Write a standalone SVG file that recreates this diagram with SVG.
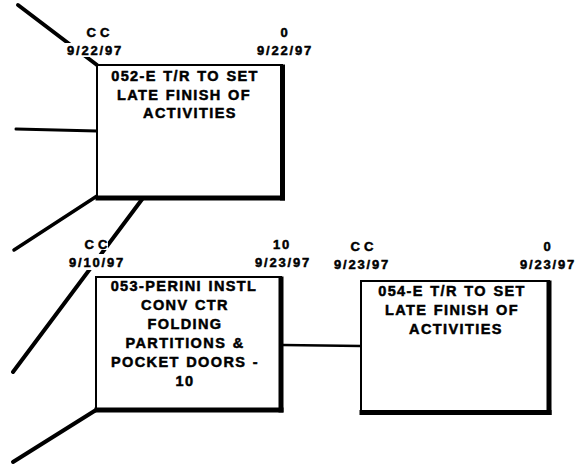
<svg xmlns="http://www.w3.org/2000/svg" width="581" height="465" viewBox="0 0 581 465">
<style>
.thin{fill:none;stroke:#000;stroke-width:2;stroke-linecap:square}
.thick{fill:none;stroke:#000;stroke-width:5;stroke-linecap:square}
.conn{fill:none;stroke:#000;stroke-linecap:round}
.bg{fill:#fff}
text{font-family:"Liberation Sans",Arial,Helvetica,sans-serif;font-weight:bold;fill:#000;stroke:#000;stroke-width:0.5;text-anchor:middle}
.lbl{font-size:13px;letter-spacing:1.8px}
.cc{font-size:13px;letter-spacing:4px}
.body{font-size:14.5px;letter-spacing:1.4px;word-spacing:1px}
</style>
<rect width="581" height="465" fill="#fff"/>
<g id="connectors">
<line class="conn" x1="18" y1="5" x2="97" y2="65" stroke-width="4"/>
<line class="conn" x1="16" y1="129" x2="97" y2="131" stroke-width="3"/>
<line class="conn" x1="97" y1="196" x2="14" y2="250" stroke-width="3.5"/>
<line class="conn" x1="143" y1="198" x2="13" y2="372" stroke-width="4"/>
<line class="conn" x1="96" y1="410" x2="13" y2="462" stroke-width="4"/>
<line class="conn" x1="283" y1="345" x2="361" y2="346" stroke-width="2.5"/>
</g>
<g id="node052">
<rect class="bg" x="97" y="65" width="184" height="131"/>
<polyline class="thin" points="282,65 97,65 97,198"/>
<line class="thick" x1="282.5" y1="67" x2="282.5" y2="198"/>
<line class="thick" x1="98" y1="198" x2="282.5" y2="198"/>
<rect class="bg" x="84" y="27" width="28" height="11"/>
<rect class="bg" x="63" y="43" width="62" height="14"/>
<text class="cc" x="100" y="37">CC</text>
<text class="lbl" x="95" y="55">9/22/97</text>
<text class="lbl" x="285" y="37">0</text>
<text class="lbl" x="285" y="55">9/22/97</text>
<text class="body" x="185" y="81">052-E T/R TO SET</text>
<text class="body" x="184" y="100">LATE FINISH OF</text>
<text class="body" x="190" y="118">ACTIVITIES</text>
</g>
<g id="node053">
<rect class="bg" x="96" y="277" width="183" height="131"/>
<polyline class="thin" points="281,277 96,277 96,410"/>
<line class="thick" x1="281" y1="279" x2="281" y2="410"/>
<line class="thick" x1="97" y1="410" x2="281" y2="410"/>
<rect class="bg" x="80" y="238" width="28" height="12"/>
<rect class="bg" x="60" y="254" width="72" height="16"/>
<text class="cc" x="98" y="249">CC</text>
<text class="lbl" x="97" y="267">9/10/97</text>
<text class="lbl" x="282" y="249">10</text>
<text class="lbl" x="283" y="267">9/23/97</text>
<text class="body" x="184" y="291">053-PERINI INSTL</text>
<text class="body" x="185" y="310">CONV CTR</text>
<text class="body" x="185" y="329">FOLDING</text>
<text class="body" x="185" y="348">PARTITIONS &amp;</text>
<text class="body" x="185" y="367">POCKET DOORS -</text>
<text class="body" x="185" y="386">10</text>
</g>
<g id="node054">
<rect class="bg" x="361" y="281" width="186" height="130"/>
<polyline class="thin" points="549,281 361,281 361,412"/>
<line class="thick" x1="549" y1="283" x2="549" y2="412.5"/>
<line class="thick" x1="362" y1="412.5" x2="549" y2="412.5"/>
<text class="cc" x="364" y="251">CC</text>
<text class="lbl" x="362" y="269">9/23/97</text>
<text class="lbl" x="548" y="251">0</text>
<text class="lbl" x="548" y="269">9/23/97</text>
<text class="body" x="452" y="296">054-E T/R TO SET</text>
<text class="body" x="452" y="315">LATE FINISH OF</text>
<text class="body" x="456" y="334">ACTIVITIES</text>
</g>
</svg>
